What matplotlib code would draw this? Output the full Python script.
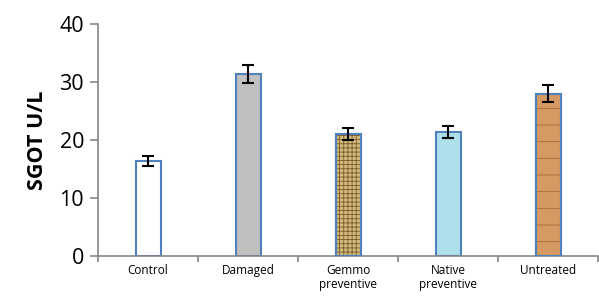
import numpy as np
import matplotlib
matplotlib.rcParams['font.family'] = ['Open Sans', 'DejaVu Sans']
matplotlib.rcParams['hatch.linewidth'] = 0.6
import matplotlib.pyplot as plt

groups = ['Control', 'Damaged', 'Gemmo\npreventive', 'Native\npreventive', 'Untreated']
sgot = [16.4, 31.4, 21.0, 21.4, 28.0]
sgot_err = [0.8, 1.6, 1.05, 1.05, 1.45]

fills = ['white', '#c0c0c0', '#d2b97e', '#aee0ec', '#d59a62']
hatches = [None, None, '++++', None, '-']
hatch_cols = [None, None, '#7a5a28', None, '#a8663a']

fig = plt.figure(figsize=(5.99, 3.04), dpi=100)
ax = fig.add_axes([0.1636, 0.158, 0.835, 0.763])

x = np.arange(len(groups))
for i in range(len(groups)):
    ax.bar(x[i], sgot[i], width=0.25, color=fills[i], edgecolor='#4f81bd',
           linewidth=1.5, zorder=2)
    if hatches[i]:
        ax.bar(x[i], sgot[i], width=0.25, color='none', edgecolor=hatch_cols[i],
               hatch=hatches[i], linewidth=0, zorder=2.5)
        ax.bar(x[i], sgot[i], width=0.25, color='none', edgecolor='#4f81bd',
               linewidth=1.5, zorder=2.6)
ax.errorbar(x, sgot, yerr=sgot_err, fmt='none', ecolor='black', elinewidth=1.5,
            capsize=4, capthick=1.5, zorder=3)

ax.set_xlim(-0.5, 4.5)
ax.set_ylim(0, 40)
ax.set_yticks([0, 10, 20, 30, 40])
ax.set_xticks(x)
ax.set_xticklabels(groups, fontsize=8.5, linespacing=1.05)
ax.set_xticks(np.arange(-0.5, 5, 1), minor=True)
ax.tick_params(axis='x', which='major', length=0, pad=6)
ax.tick_params(axis='x', which='minor', length=4, width=1.2, color='#868686', direction='out')
ax.tick_params(axis='y', labelsize=15.5, length=6, width=1.2, color='#868686', pad=4)
for s in ['top', 'right']:
    ax.spines[s].set_visible(False)
for s in ['left', 'bottom']:
    ax.spines[s].set_color('#868686')
    ax.spines[s].set_linewidth(1.2)
ax.set_ylabel('SGOT U/L', fontsize=15.5, fontweight='bold', labelpad=8)

fig.savefig('out.png', dpi=100)
